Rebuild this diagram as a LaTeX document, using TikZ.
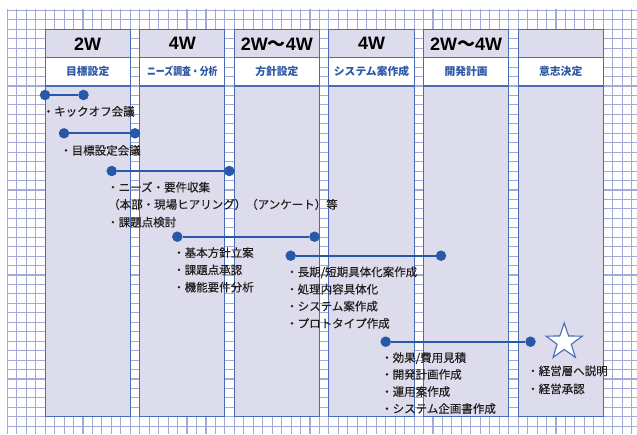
\documentclass[tikz,border=0pt]{standalone}
\usepackage{graphicx}
\usepackage{fontspec}
\setmainfont{Noto Sans CJK JP}
\newfontfamily\jpf{Noto Sans CJK JP}
\newfontfamily\jpm{Noto Sans CJK JP}[FakeBold=0.35]
\newfontfamily\latb{Liberation Sans}[UprightFont=* Bold]
\usetikzlibrary{shapes.geometric}
\definecolor{gridc}{RGB}{164,170,216}
\definecolor{lav}{RGB}{220,220,236}
\definecolor{boxc}{RGB}{72,108,182}
\definecolor{linec}{RGB}{40,88,168}
\definecolor{labc}{RGB}{46,88,166}
\definecolor{txtc}{RGB}{35,30,30}
\tikzset{
  gridline/.style={draw=gridc, line width=1.1pt},
  colframe/.style={draw=boxc, line width=1.1pt, fill=lav},
  labframe/.style={draw=boxc, line width=1.1pt, fill=white},
  numtext/.style={inner sep=0pt, font=\fontsize{18}{20}\selectfont, text=black},
  labtext/.style={inner sep=0pt, font=\fontsize{10.8}{12}\selectfont\bfseries, text=labc},
  itemtext/.style={inner sep=0pt, anchor=west, text height=9pt, text depth=0.5pt, font=\jpm\fontsize{11.5}{13}\selectfont, text=txtc},
  dotnode/.style={circle, fill=linec, inner sep=0pt, minimum size=10.5pt},
  link/.style={draw=linec, line width=1.8pt},
}
\newcommand{\wt}{{\jpf\bfseries ～}}
\begin{document}
\begin{tikzpicture}[x=1pt,y=-1pt]
\useasboundingbox (0,0) rectangle (637,434);
% grid
\foreach \i in {0,...,66} \draw[gridline] ({7.3+9.46*\i},9) -- ({7.3+9.46*\i},434);
\foreach \j in {0,...,44} \draw[gridline] (7,{10.4+9.45*\j}) -- (637,{10.4+9.45*\j});
% columns
\foreach \k/\num/\lab in {
  0/{{\latb 2W}}/{目標設定},
  1/{{\latb 4W}}/{\scalebox{0.82}[1]{ニーズ調査・分析}},
  2/{{\latb 2W}\wt{\latb 4W}}/{方針設定},
  3/{{\latb 4W}}/{システム案作成},
  4/{{\latb 2W}\wt{\latb 4W}}/{開発計画},
  5/{}/{意志決定}} {
  \pgfmathsetmacro{\xl}{45.14+94.6*\k}
  \draw[colframe] (\xl,29.3) rectangle ({\xl+85.2},416.75);
  \draw[labframe] (\xl,57.65) rectangle ({\xl+85.2},86);
  \node[numtext] (h\k) at ({\xl+42.6},43.8) {\num};
  \node[labtext] (l\k) at ({\xl+42.6},71.8) {\lab};
}
% connectors
\node[dotnode] (a1) at (45,95) {};
\node[dotnode] (b1) at (83.5,95) {};
\draw[link] (a1) -- (b1);
\node[dotnode] (a2) at (64,133.3) {};
\node[dotnode] (b2) at (135,133.3) {};
\draw[link] (a2) -- (b2);
\node[dotnode] (a3) at (111.7,171) {};
\node[dotnode] (b3) at (229.3,171) {};
\draw[link] (a3) -- (b3);
\node[dotnode] (a4) at (177.3,236.7) {};
\node[dotnode] (b4) at (314.5,236.7) {};
\draw[link] (a4) -- (b4);
\node[dotnode] (a5) at (290.7,255.7) {};
\node[dotnode] (b5) at (441,255.7) {};
\draw[link] (a5) -- (b5);
\node[dotnode] (a6) at (385.7,341.7) {};
\node[dotnode] (b6) at (530.5,341.7) {};
\draw[link] (a6) -- (b6);
\node[star, star points=5, star point ratio=2.55, inner sep=0pt, minimum size=38pt, draw=boxc, line width=1.1pt, fill=white] (star) at (564.2,342) {};
% texts
\node[itemtext] (t1) at (42.5,111.5) {・キックオフ会議};
\node[itemtext] (t2) at (60,150.5) {・目標設定会議};
\node[itemtext] (t3) at (107,187.3) {・ニーズ・要件収集};
\node[itemtext] (t4) at (108,204.5) {（本部・現場ヒアリング）（アンケート）等};
\node[itemtext] (t5) at (107,222.3) {・課題点検討};
\node[itemtext] (t6) at (173,252.7) {・基本方針立案};
\node[itemtext] (t7) at (173,270) {・課題点承認};
\node[itemtext] (t8) at (173,287.3) {・機能要件分析};
\node[itemtext] (t9) at (286,272) {・長期/短期具体化案作成};
\node[itemtext] (t10) at (286,289.3) {・処理内容具体化};
\node[itemtext] (t11) at (286,306.3) {・システム案作成};
\node[itemtext] (t12) at (286,323.5) {・プロトタイプ作成};
\node[itemtext] (t13) at (381,357.7) {・効果/費用見積};
\node[itemtext] (t14) at (381,374.5) {・開発計画作成};
\node[itemtext] (t15) at (381,391.7) {・運用案作成};
\node[itemtext] (t16) at (381,408.7) {・システム企画書作成};
\node[itemtext] (t17) at (527,371) {・経営層へ説明};
\node[itemtext] (t18) at (527,389) {・経営承認};
\end{tikzpicture}
\end{document}
